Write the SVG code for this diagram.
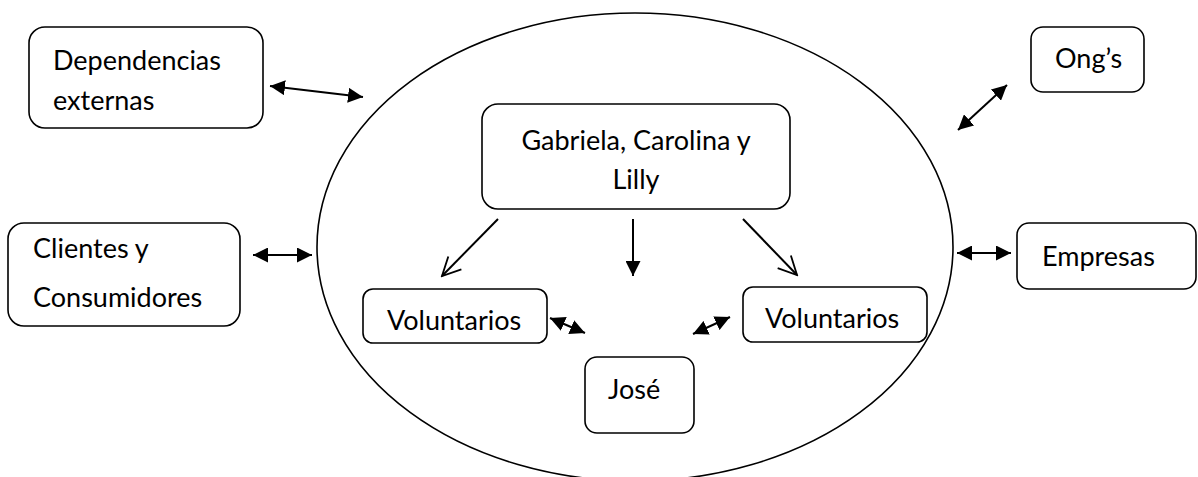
<svg xmlns="http://www.w3.org/2000/svg" width="1198" height="477" viewBox="0 0 1198 477">
<style>
.box{fill:#fff;stroke:#000;stroke-width:1.6}
.t{font-family:Lato,"Open Sans",sans-serif;font-size:27px;fill:#000}
.c{fill:none;stroke:#000;stroke-width:2}
</style>
<defs>
<marker id="fh" viewBox="0 0 10 10" refX="10" refY="5" markerWidth="7.5" markerHeight="7.5" orient="auto-start-reverse" markerUnits="strokeWidth"><path d="M0,0 L10,5 L0,10 Z" fill="#000"/></marker>
<marker id="oh" viewBox="0 0 12 12" refX="11" refY="6" markerWidth="11" markerHeight="11" orient="auto" markerUnits="strokeWidth"><path d="M1,1 L11,6 L1,11" fill="none" stroke="#000" stroke-width="1"/></marker>
</defs>
<rect width="1198" height="477" fill="#fff"/>
<g id="ellipse"><ellipse cx="635" cy="247" rx="318" ry="234" fill="none" stroke="#000" stroke-width="1.6"/></g>
<g id="dependencias"><rect class="box" x="29" y="27" width="234" height="101" rx="16"/><text class="t" x="53" y="70">Dependencias</text><text class="t" x="53" y="110">externas</text></g>
<g id="clientes"><rect class="box" x="8" y="223" width="232" height="103" rx="16"/><text class="t" x="33" y="258">Clientes y</text><text class="t" x="33" y="307">Consumidores</text></g>
<g id="ongs"><rect class="box" x="1031" y="27" width="113" height="65" rx="12"/><text class="t" x="1055" y="68">Ong’s</text></g>
<g id="empresas"><rect class="box" x="1017" y="223" width="179" height="66" rx="12"/><text class="t" x="1042" y="266">Empresas</text></g>
<g id="gabriela"><rect class="box" x="482" y="104" width="308" height="105" rx="16"/><text class="t" x="636" y="150" text-anchor="middle">Gabriela, Carolina y</text><text class="t" x="636" y="189" text-anchor="middle">Lilly</text></g>
<g id="vol-left"><rect class="box" x="363" y="289" width="184" height="54" rx="10"/><text class="t" x="387" y="330">Voluntarios</text></g>
<g id="vol-right"><rect class="box" x="743" y="287" width="184" height="55" rx="10"/><text class="t" x="765" y="328">Voluntarios</text></g>
<g id="jose"><rect class="box" x="585" y="357" width="109" height="76" rx="12"/><text class="t" x="608" y="399">José</text></g>
<g id="connectors">
<line class="c" x1="270" y1="86" x2="363" y2="97" marker-start="url(#fh)" marker-end="url(#fh)"/>
<line class="c" x1="253" y1="255" x2="312" y2="255" marker-start="url(#fh)" marker-end="url(#fh)"/>
<line class="c" x1="958" y1="130" x2="1007" y2="85" marker-start="url(#fh)" marker-end="url(#fh)"/>
<line class="c" x1="957" y1="253" x2="1011" y2="253" marker-start="url(#fh)" marker-end="url(#fh)"/>
<line class="c" x1="550" y1="318" x2="585" y2="333" marker-start="url(#fh)" marker-end="url(#fh)"/>
<line class="c" x1="693" y1="334" x2="730" y2="317" marker-start="url(#fh)" marker-end="url(#fh)"/>
<line class="c" x1="498" y1="219" x2="442" y2="276" marker-end="url(#oh)"/>
<line class="c" x1="633" y1="219" x2="633" y2="276" marker-end="url(#fh)"/>
<line class="c" x1="743" y1="219" x2="797" y2="275" marker-end="url(#oh)"/>
</g>
</svg>
